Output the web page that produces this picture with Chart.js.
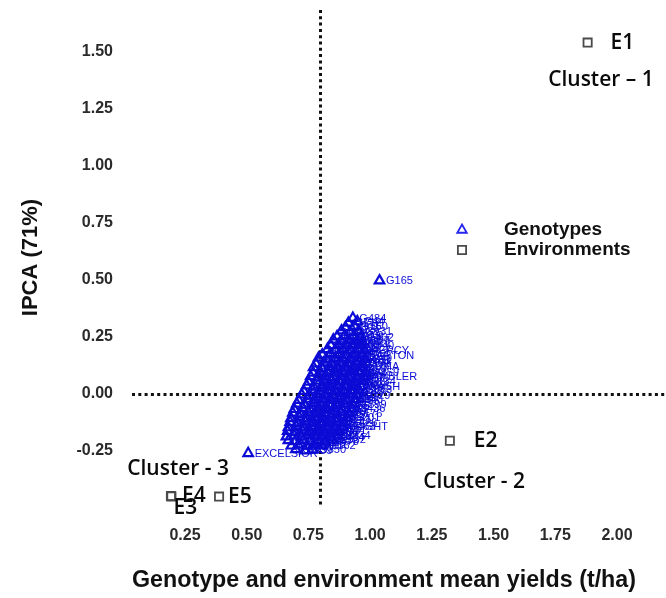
<!DOCTYPE html>
<html>
<head>
<meta charset="utf-8">
<script src="https://cdn.jsdelivr.net/npm/chart.js@4.4.1/dist/chart.umd.min.js"></script>
<style>
html,body{margin:0;padding:0;background:#fff;}
#wrap{width:666px;height:598px;position:relative;}
</style>
</head>
<body>
<div id="wrap"><canvas id="c"></canvas></div>
<script>
// ---------- DATA ----------
const xTickValues = [0.25, 0.50, 0.75, 1.00, 1.25, 1.50, 1.75, 2.00];
const yTickValues = [-0.25, 0.00, 0.25, 0.50, 0.75, 1.00, 1.25, 1.50];

const envNames = ['E1', 'E2', 'E3', 'E4', 'E5'];
const envX = [1.881, 1.323, 0.195, 0.193, 0.388];
const envY = [1.541, -0.205, -0.449, -0.447, -0.450];

const clusterNames = ['Cluster \u2013 1', 'Cluster - 2', 'Cluster - 3'];
const clusterX = [1.935, 1.421, 0.222];
const clusterY = [1.377, -0.386, -0.329];

const grandMean = 0.797;   // vertical reference line (mean yield)
const ipcaZero = 0.0;      // horizontal reference line

const genoNames = [
  'G484',
  'G212','G44',
  'G308','G160',
  'G97','G275','G131',
  'G52','G390','G18','G402',
  'G233','G71','G356','G157','G29',
  'G118','G441','G263','G85','G340',
  'G7','G199','G312','G64','G427','PERCY',
  'G150','G36','G287','G473','G103','BARTON',
  'G221','G58','G395','G172','G416','G249','G11',
  'G336','G81','G458','G127','G203','G364','G92',
  'G19','G270','G145','G488','G61','G310','SUMA',
  'G175','G432','G48','G297','G116','G380','G24','G259',
  'G163','G407','G88','G321','G139','G470','GAMBLER','G2',
  'G241','G55','G372','G190','G419','G66','G283','G134',
  'G449','G107','G226','G14','G351','G178','G302','WASH',
  'G91','G368','G245','G33','G462','G122','G215','G388',
  'G5','G292','G141','G413','G76','G254','G185','G329',
  'G444','G99','G267','G12','G357','G158','G405','G40',
  'G208','G325','G69','G481','G147','G236','G17','G399',
  'G129','G260','G46','G384','G194','G311','G82','G436',
  'G253','G6','G346','G111','G468','G229','G37','G176',
  'G393','G62','G288','G154','G417','G27','G341','G201',
  'G109','G459','G73','G238','G316','G183','G47','G426',
  'G264','G137','G401','G21','G354','DAYLIGHT','G95','G463',
  'G188','G32','G279','G120','G445','G206','G371','G9',
  'G166','G411','G83','G247','G121','G192','G454','G334',
  'G272','G45','G387','G156','G213','G478','G332',
  'G101','G286','G30','G412','G162',
  'G217','G39','G350',
  'G165','EXCELSIOR'
];
const genoX = [
  0.930,
  0.912,0.948,
  0.900,0.936,
  0.884,0.918,0.954,
  0.866,0.898,0.933,0.961,
  0.851,0.883,0.914,0.945,0.969,
  0.841,0.871,0.904,0.929,0.962,
  0.827,0.859,0.889,0.921,0.951,0.978,
  0.806,0.839,0.873,0.904,0.937,0.968,
  0.791,0.824,0.857,0.887,0.921,0.954,0.981,
  0.781,0.813,0.844,0.877,0.909,0.943,0.971,
  0.771,0.805,0.835,0.867,0.899,0.929,0.963,
  0.769,0.797,0.829,0.857,0.891,0.921,0.956,0.982,
  0.759,0.791,0.819,0.851,0.881,0.915,0.946,0.976,
  0.751,0.783,0.813,0.844,0.877,0.905,0.939,0.969,
  0.743,0.771,0.805,0.835,0.867,0.899,0.929,0.963,
  0.731,0.765,0.794,0.827,0.857,0.891,0.923,0.954,
  0.723,0.754,0.787,0.817,0.851,0.881,0.915,0.947,
  0.711,0.746,0.775,0.809,0.839,0.873,0.903,0.941,
  0.703,0.734,0.769,0.799,0.833,0.863,0.897,0.931,
  0.693,0.727,0.757,0.791,0.821,0.856,0.887,0.926,
  0.687,0.717,0.751,0.781,0.815,0.845,0.881,0.914,
  0.679,0.713,0.743,0.777,0.805,0.839,0.869,0.906,
  0.676,0.705,0.739,0.767,0.801,0.831,0.863,0.894,
  0.669,0.701,0.731,0.763,0.793,0.826,0.855,0.886,
  0.666,0.695,0.727,0.755,0.789,0.817,0.849,0.874,
  0.661,0.693,0.721,0.753,0.781,0.813,0.841,0.867,
  0.669,0.697,0.729,0.757,0.791,0.819,0.847,
  0.681,0.709,0.743,0.771,0.806,
  0.699,0.736,0.767,
  1.038,0.506
];
const genoY = [
  0.333,
  0.312,0.318,
  0.292,0.298,
  0.278,0.271,0.276,
  0.252,0.258,0.254,0.249,
  0.238,0.231,0.236,0.233,0.229,
  0.213,0.218,0.211,0.216,0.212,
  0.196,0.191,0.198,0.193,0.197,0.192,
  0.172,0.178,0.174,0.171,0.177,0.169,
  0.158,0.152,0.156,0.159,0.151,0.155,0.153,
  0.133,0.138,0.131,0.136,0.134,0.137,0.132,
  0.117,0.112,0.118,0.113,0.116,0.111,0.119,
  0.093,0.098,0.091,0.097,0.094,0.099,0.092,0.096,
  0.077,0.072,0.078,0.073,0.076,0.071,0.075,0.074,
  0.053,0.058,0.052,0.057,0.054,0.059,0.051,0.056,
  0.037,0.032,0.038,0.031,0.036,0.033,0.038,0.034,
  0.013,0.018,0.012,0.017,0.011,0.016,0.014,0.019,
  -0.003,-0.008,-0.002,-0.007,-0.004,-0.009,-0.001,-0.006,
  -0.027,-0.022,-0.028,-0.021,-0.026,-0.023,-0.029,-0.024,
  -0.043,-0.048,-0.041,-0.047,-0.044,-0.049,-0.042,-0.046,
  -0.067,-0.062,-0.068,-0.061,-0.066,-0.063,-0.069,-0.064,
  -0.083,-0.088,-0.082,-0.087,-0.084,-0.089,-0.081,-0.086,
  -0.107,-0.102,-0.108,-0.101,-0.106,-0.103,-0.109,-0.104,
  -0.123,-0.128,-0.121,-0.127,-0.124,-0.129,-0.122,-0.126,
  -0.147,-0.142,-0.148,-0.141,-0.146,-0.143,-0.149,-0.144,
  -0.163,-0.168,-0.161,-0.167,-0.164,-0.169,-0.162,-0.166,
  -0.187,-0.182,-0.188,-0.181,-0.186,-0.183,-0.189,-0.184,
  -0.203,-0.208,-0.202,-0.207,-0.204,-0.209,-0.201,
  -0.227,-0.222,-0.228,-0.223,-0.226,
  -0.243,-0.248,-0.244,
  0.497,-0.260
];

const seriesNames = ['Genotypes', 'Environments'];

// ---------- STYLE ----------
const BLUE = '#0c0cd6';
const ENV_COLOR = '#4a4a4a';
const ARIAL = "'Liberation Sans', Arial, Helvetica, sans-serif";
const CAL = "'Open Sans', 'Noto Sans', sans-serif";
const envLabelDx = [23, 24, 2, 11, 9];
const envLabelDy = [0, 0, 12, 0, 0];

Chart.defaults.font.family = ARIAL;

const overlay = {
  id: 'overlay',
  beforeDatasetsDraw(chart) {
    const {ctx, chartArea: a, scales: {x, y}} = chart;
    ctx.save();
    ctx.strokeStyle = '#111';
    ctx.lineWidth = 3;
    ctx.setLineDash([3, 3.3]);
    const px = Math.round(x.getPixelForValue(grandMean)) + 0.5;
    ctx.beginPath(); ctx.moveTo(px, a.top); ctx.lineTo(px, a.bottom); ctx.stroke();
    const py = Math.round(y.getPixelForValue(ipcaZero)) + 0.5;
    ctx.beginPath(); ctx.moveTo(a.left, py); ctx.lineTo(chart.width, py); ctx.stroke();
    ctx.restore();
  },
  afterDatasetsDraw(chart) {
    const {ctx, scales: {x, y}} = chart;
    ctx.save();
    // genotype labels
    ctx.fillStyle = BLUE;
    ctx.font = '11px ' + ARIAL;
    ctx.textAlign = 'left';
    ctx.textBaseline = 'middle';
    genoNames.forEach((n, i) => {
      ctx.fillText(n, x.getPixelForValue(genoX[i]) + 6.5, y.getPixelForValue(genoY[i]) + 0.5);
    });
    // environment labels
    ctx.fillStyle = '#0a0a0a';
    ctx.font = '600 21px ' + CAL;
    envNames.forEach((n, i) => {
      ctx.fillText(n, x.getPixelForValue(envX[i]) + envLabelDx[i], y.getPixelForValue(envY[i]) + envLabelDy[i]);
    });
    // cluster labels
    ctx.textAlign = 'center';
    clusterNames.forEach((n, i) => {
      ctx.fillText(n, x.getPixelForValue(clusterX[i]), y.getPixelForValue(clusterY[i]));
    });
    // legend
    const lx = 462, ly = [230, 250];
    const styles = [
      {pointStyle: 'triangle', radius: 5.5, rotation: 0, borderWidth: 1.8, color: '#2525ee'},
      {pointStyle: 'rect', radius: 5.8, rotation: 0, borderWidth: 1.8, color: ENV_COLOR}
    ];
    seriesNames.forEach((n, i) => {
      ctx.strokeStyle = styles[i].color;
      ctx.fillStyle = 'rgba(0,0,0,0)';
      ctx.lineWidth = styles[i].borderWidth;
      Chart.helpers.drawPoint(ctx, styles[i], lx, ly[i]);
      ctx.fillStyle = '#111';
      ctx.font = 'bold 19px ' + ARIAL;
      ctx.textAlign = 'left';
      ctx.textBaseline = 'middle';
      ctx.fillText(n, 504, ly[i]);
    });
    ctx.restore();
  }
};

new Chart(document.getElementById('c'), {
  type: 'scatter',
  data: {
    datasets: [
      {
        label: seriesNames[0],
        data: genoX.map((v, i) => ({x: v, y: genoY[i]})),
        pointStyle: 'triangle',
        pointRadius: 5.5,
        pointBorderWidth: 2.2,
        borderColor: BLUE,
        backgroundColor: 'rgba(0,0,0,0)',
        clip: false
      },
      {
        label: seriesNames[1],
        data: envX.map((v, i) => ({x: v, y: envY[i]})),
        pointStyle: 'rect',
        pointRadius: 5.8,
        pointBorderWidth: 1.8,
        borderColor: ENV_COLOR,
        backgroundColor: 'rgba(0,0,0,0)',
        clip: false
      }
    ]
  },
  options: {
    responsive: true,
    maintainAspectRatio: false,
    animation: false,
    devicePixelRatio: 1,
    layout: {padding: {top: 10, right: 30, left: 0, bottom: 0}},
    plugins: {legend: {display: false}, tooltip: {enabled: false}},
    scales: {
      x: {
        type: 'linear',
        min: 0.0353,
        max: 2.077,
        afterBuildTicks: s => { s.ticks = xTickValues.map(v => ({value: v})); },
        afterFit: s => { s.height = 93; s.paddingLeft = 0; s.paddingRight = 0; },
        grid: {display: false, drawTicks: false},
        border: {display: false},
        ticks: {
          autoSkip: false, maxRotation: 0, padding: 21,
          color: '#2a2a2a',
          font: {size: 16, weight: 'bold'},
          callback: v => Number(v).toFixed(2)
        },
        title: {
          display: true,
          text: 'Genotype and environment mean yields (t/ha)',
          color: '#111',
          font: {size: 24, weight: 'bold'},
          padding: {top: 0, bottom: 3}
        }
      },
      y: {
        type: 'linear',
        min: -0.4868,
        max: 1.684,
        afterBuildTicks: s => { s.ticks = yTickValues.map(v => ({value: v})); },
        afterFit: s => { s.width = 132; s.paddingTop = 0; s.paddingBottom = 0; },
        grid: {display: false, drawTicks: false},
        border: {display: false},
        ticks: {
          autoSkip: false, padding: 19,
          color: '#2a2a2a',
          font: {size: 16, weight: 'bold'},
          callback: v => Number(v).toFixed(2)
        },
        title: {
          display: true,
          text: 'IPCA (71%)',
          color: '#111',
          font: {size: 22, weight: 'bold'},
          padding: {top: 18, bottom: 0}
        }
      }
    }
  },
  plugins: [overlay]
});
</script>
</body>
</html>
